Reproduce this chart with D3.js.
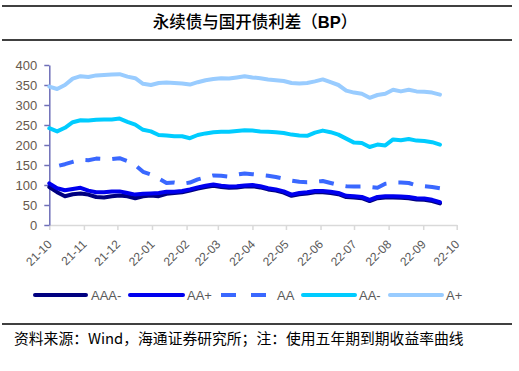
<!DOCTYPE html>
<html>
<head>
<meta charset="utf-8">
<script src="https://cdn.jsdelivr.net/npm/d3@7"></script>
<style>
  body { margin: 0; background: #fff; }
  svg { display: block; }
</style>
</head>
<body>
<div id="chart"></div>
<script>
// weekly readings, 2021-10-01 .. 2022-09-16
const dates = [
  "2021-10-01","2021-10-08","2021-10-15","2021-10-22","2021-10-29",
  "2021-11-05","2021-11-12","2021-11-19","2021-11-26",
  "2021-12-03","2021-12-10","2021-12-17","2021-12-24","2021-12-31",
  "2022-01-07","2022-01-14","2022-01-21","2022-01-28",
  "2022-02-04","2022-02-11","2022-02-18","2022-02-25",
  "2022-03-04","2022-03-11","2022-03-18","2022-03-25",
  "2022-04-01","2022-04-08","2022-04-15","2022-04-22","2022-04-29",
  "2022-05-06","2022-05-13","2022-05-20","2022-05-27",
  "2022-06-03","2022-06-10","2022-06-17","2022-06-24",
  "2022-07-01","2022-07-08","2022-07-15","2022-07-22","2022-07-29",
  "2022-08-05","2022-08-12","2022-08-19","2022-08-26",
  "2022-09-02","2022-09-09","2022-09-16"
];

const aaaMinus = [95,82,72,77,79,76,70,69,72,74, 72,67,72,74,72,78,80,82,86,91,
  95,98,95,93,94,96,97,94,89,86, 81,73,77,79,82,82,80,77,70,69,
  67,60,67,69,69,68,67,64,63,60, 54];
const aaPlus = [104,92,87,90,93,86,82,82,84,84, 80,76,78,79,80,83,83,85,89,94,
  98,101,98,96,97,99,100,97,92,89, 84,76,80,82,85,85,83,80,73,72,
  70,63,70,72,72,71,70,67,66,63, 57];
const aa = [146,147,152,158,163,162,166,165,165,167, 160,150,133,126,116,105,106,103,106,114,
  119,124,123,121,126,129,127,125,123,120, 116,111,108,107,108,110,105,100,97,96,
  96,95,93,103,106,106,105,99,97,95, 92];
const aaMinus = [242,234,243,257,262,261,263,264,264,266, 258,251,238,234,225,224,222,222,217,225,
  229,232,233,233,235,237,236,234,233,232, 230,226,224,223,231,236,232,226,216,206,
  205,195,201,199,214,212,215,211,210,207, 201];
const aPlus = [346,340,350,366,372,370,374,375,376,377, 371,367,353,350,355,356,355,354,351,357,
  362,365,367,366,369,372,369,367,364,362, 360,355,354,355,359,364,357,350,336,331,
  328,318,325,328,338,334,338,334,333,331, 326];

const yTicks = [0, 50, 100, 150, 200, 250, 300, 350, 400];

const seriesInfo = [
  { label: "AAA-", values: aaaMinus, color: "#000080", dash: null },
  { label: "AA+", values: aaPlus, color: "#0000ee", dash: null },
  { label: "AA", values: aa, color: "#3a68ff", dash: "15,12" },
  { label: "AA-", values: aaMinus, color: "#00ccff", dash: null },
  { label: "A+", values: aPlus, color: "#99ccff", dash: null }
];

const width = 519, height = 371;
const parse = d3.timeParse("%Y-%m-%d");
const xDates = dates.map(parse);

const svg = d3.select("#chart").append("svg")
  .attr("width", width)
  .attr("height", height);

// header rules + title
svg.append("line").attr("x1", 2).attr("x2", 512).attr("y1", 6).attr("y2", 6)
  .attr("stroke", "#000").attr("stroke-width", 1.5);
svg.append("line").attr("x1", 2).attr("x2", 512).attr("y1", 40).attr("y2", 40)
  .attr("stroke", "#000").attr("stroke-width", 1.5);

const title = svg.append("text")
  .attr("x", 255).attr("y", 28)
  .attr("text-anchor", "middle")
  .attr("font-family", "'Noto Sans CJK SC', sans-serif")
  .attr("font-size", "16.5px")
  .attr("font-weight", 500)
  .attr("fill", "#000");
title.append("tspan").text("永续债与国开债利差（");
title.append("tspan").attr("font-family", "'Liberation Sans', Arial, sans-serif")
  .attr("font-weight", "bold").text("BP");
title.append("tspan").text("）");

const x = d3.scaleTime()
  .domain([parse("2021-10-01"), parse("2022-10-01")])
  .range([49.3, 456.7]);

const y = d3.scaleLinear()
  .domain([0, 400])
  .range([225, 65]);

// x axis
const xAxis = svg.append("g")
  .attr("transform", "translate(0,225)")
  .call(d3.axisBottom(x)
    .ticks(d3.timeMonth.every(1))
    .tickFormat(d3.timeFormat("%y-%m"))
    .tickSize(5)
    .tickSizeOuter(0));
xAxis.select(".domain").attr("stroke", "#d9d9d9").attr("stroke-width", 1.5);
xAxis.selectAll(".tick line").attr("stroke", "#d9d9d9").attr("stroke-width", 1.5);
xAxis.selectAll(".tick text")
  .attr("font-family", "'Liberation Sans', Arial, sans-serif")
  .attr("font-size", "12px")
  .attr("fill", "#595959")
  .attr("text-anchor", "end")
  .attr("dy", null)
  .attr("y", null)
  .attr("transform", "translate(3,20) rotate(-45)");

// y axis
const yAxis = svg.append("g")
  .attr("transform", "translate(49.3,0)")
  .call(d3.axisLeft(y)
    .tickValues(yTicks)
    .tickSize(5)
    .tickSizeOuter(0)
    .tickPadding(7));
yAxis.select(".domain").attr("stroke", "#6f6fb8").attr("stroke-width", 1.5);
yAxis.selectAll(".tick line").attr("stroke", "#6f6fb8").attr("stroke-width", 1.5);
yAxis.selectAll(".tick text")
  .attr("font-family", "'Liberation Sans', Arial, sans-serif")
  .attr("font-size", "13px")
  .attr("fill", "#66594d");

// lines
const line = d3.line()
  .x((d, i) => x(xDates[i]))
  .y(d => y(d));

seriesInfo.forEach(s => {
  const p = svg.append("path")
    .datum(s.values)
    .attr("d", line)
    .attr("fill", "none")
    .attr("stroke", s.color)
    .attr("stroke-width", 4)
    .attr("stroke-linejoin", "round")
    .attr("stroke-linecap", "round");
  if (s.dash) {
    p.attr("stroke-dasharray", s.dash).attr("stroke-dashoffset", 17)
      .attr("stroke-linecap", "butt");
  }
});

// legend
const legendItems = [
  { x0: 35, x1: 86, tx: 91 },
  { x0: 130, x1: 183, tx: 187 },
  { x0: 221, x1: 268, tx: 277 },
  { x0: 303, x1: 355, tx: 359 },
  { x0: 390, x1: 442, tx: 446 }
];
seriesInfo.forEach((s, i) => {
  const li = legendItems[i];
  const ln = svg.append("line")
    .attr("x1", li.x0).attr("x2", li.x1)
    .attr("y1", 295).attr("y2", 295)
    .attr("stroke", s.color)
    .attr("stroke-width", 4)
    .attr("stroke-linecap", "round");
  if (s.dash) ln.attr("stroke-dasharray", "15,15").attr("stroke-linecap", "butt");
  svg.append("text")
    .attr("x", li.tx).attr("y", 300)
    .attr("font-family", "'Liberation Sans', Arial, sans-serif")
    .attr("font-size", "13px")
    .attr("fill", "#595959")
    .text(s.label);
});

// footer
svg.append("line").attr("x1", 2).attr("x2", 512).attr("y1", 324).attr("y2", 324)
  .attr("stroke", "#000").attr("stroke-width", 1.5);
svg.append("text")
  .attr("x", 14).attr("y", 344)
  .attr("font-family", "'Noto Sans CJK SC', sans-serif")
  .attr("font-size", "14.8px")
  .attr("fill", "#000")
  .text("资料来源：Wind，海通证券研究所；注：使用五年期到期收益率曲线");
</script>
</body>
</html>
